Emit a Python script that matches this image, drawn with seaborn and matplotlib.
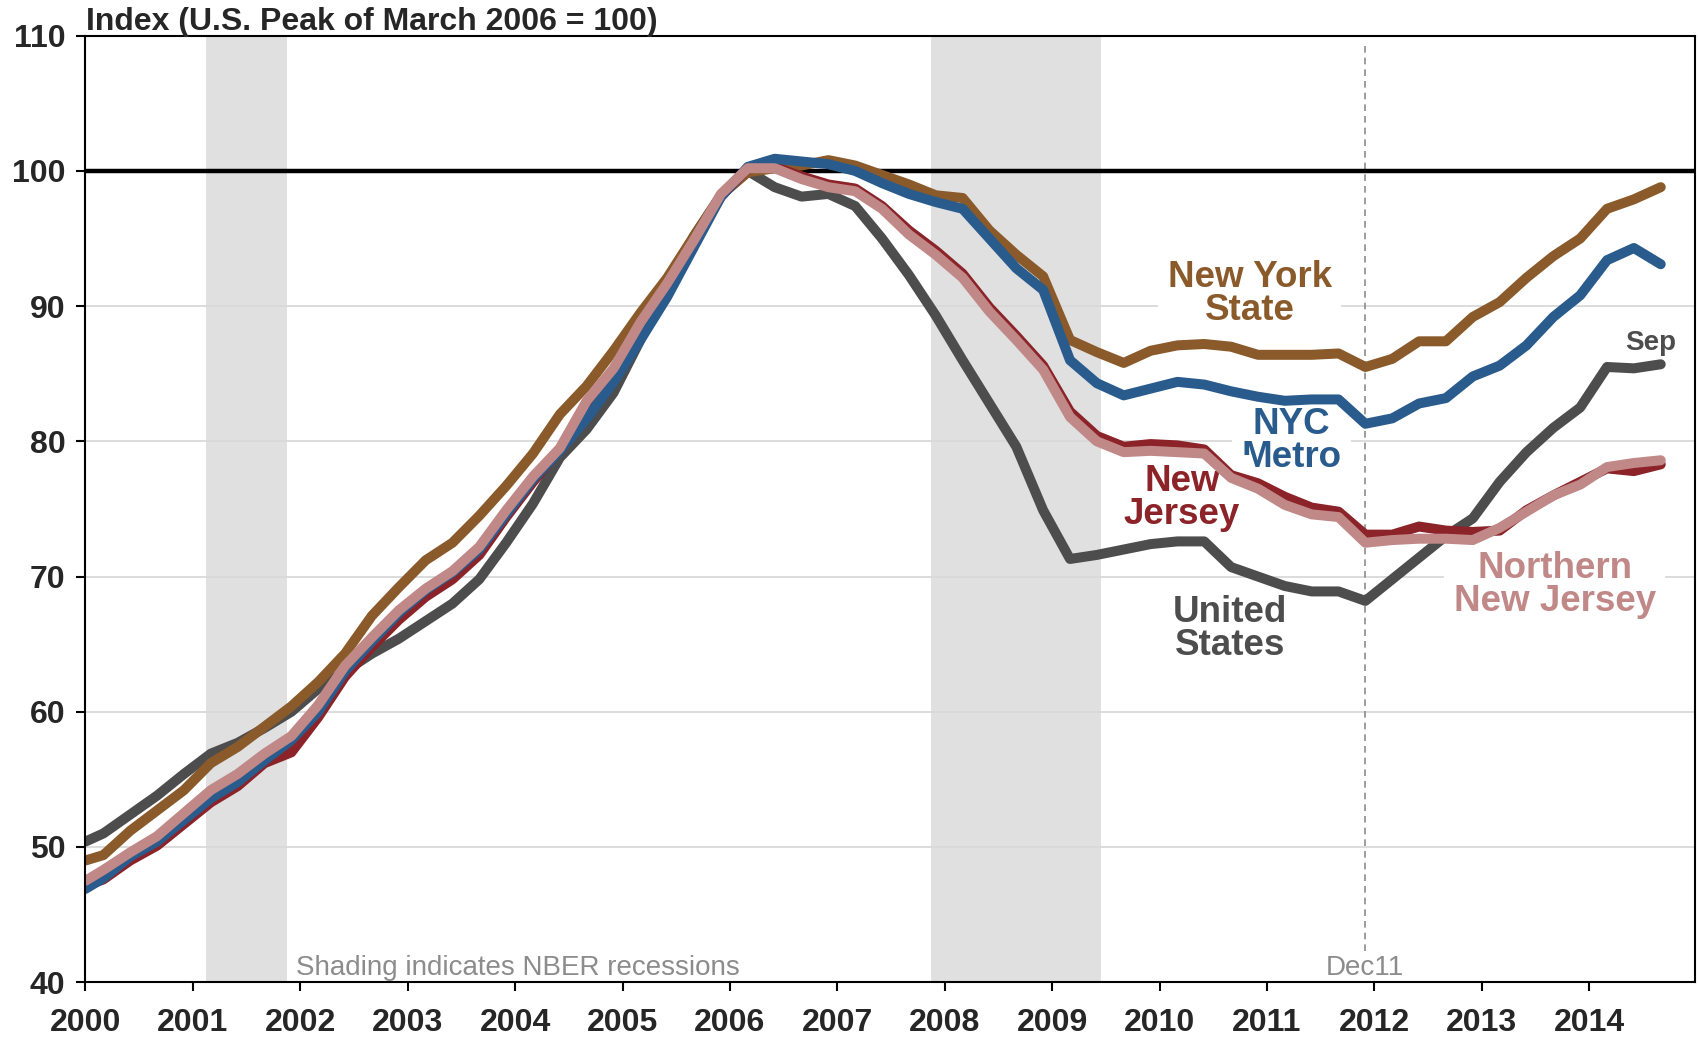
import matplotlib
matplotlib.use("Agg")
import matplotlib.pyplot as plt
import pandas as pd
import seaborn as sns
from matplotlib import font_manager

# Observation months: January 2000, then quarterly (Mar/Jun/Sep/Dec) through September 2014
dates = ["2000-01"] + [d.strftime("%Y-%m") for d in
                       pd.date_range("2000-03-01", "2014-09-01", freq="3MS")]

# Home price indexes (U.S. peak of March 2006 = 100)
us = [
    50.4, 51.0, 52.4, 53.8, 55.4,
    56.9, 57.7, 58.8, 60.0,
    61.7, 63.0, 64.3, 65.4,
    66.7, 68.0, 69.8, 72.5,
    75.4, 78.8, 80.9, 83.6,
    87.5, 91.5, 95.2, 98.2,
    100.0, 98.8, 98.1, 98.3,
    97.4, 95.0, 92.3, 89.3,
    86.0, 82.8, 79.6, 74.9,
    71.3, 71.6, 72.0, 72.4,
    72.6, 72.6, 70.7, 70.0,
    69.3, 68.9, 68.9, 68.2,
    69.8, 71.4, 73.0, 74.3,
    77.0, 79.2, 81.0, 82.5,
    85.5, 85.4, 85.7,
]
nys = [
    49.0, 49.4, 51.2, 52.7, 54.2,
    56.2, 57.4, 58.9, 60.4,
    62.2, 64.3, 67.1, 69.2,
    71.2, 72.5, 74.5, 76.7,
    79.1, 82.0, 84.1, 86.7,
    89.5, 92.1, 95.2, 98.2,
    99.9, 100.2, 100.4, 100.8,
    100.4, 99.7, 99.0, 98.2,
    98.0, 95.6, 93.8, 92.2,
    87.5, 86.6, 85.8, 86.7,
    87.1, 87.2, 87.0, 86.4,
    86.4, 86.4, 86.5, 85.5,
    86.1, 87.4, 87.4, 89.2,
    90.3, 92.1, 93.7, 95.0,
    97.2, 97.9, 98.8,
]
nyc = [
    46.9, 47.7, 49.3, 50.4, 52.0,
    53.6, 54.8, 56.4, 57.9,
    60.0, 63.0, 65.2, 67.3,
    69.0, 70.3, 72.0, 74.6,
    77.2, 79.3, 81.7, 84.4,
    87.5, 90.7, 94.4, 98.1,
    100.3, 100.9, 100.7, 100.5,
    100.0, 99.1, 98.3, 97.7,
    97.2, 95.0, 92.8, 91.2,
    86.0, 84.3, 83.4, 83.9,
    84.4, 84.2, 83.7, 83.3,
    83.0, 83.1, 83.1, 81.3,
    81.7, 82.8, 83.2, 84.8,
    85.6, 87.1, 89.2, 90.8,
    93.4, 94.3, 93.1,
]
nj = [
    47.1, 47.6, 49.0, 50.1, 51.7,
    53.3, 54.5, 56.2, 57.0,
    59.6, 62.6, 64.8, 66.8,
    68.5, 69.8, 71.6, 74.4,
    77.0, 79.4, 82.8, 85.2,
    88.6, 91.5, 94.8, 98.1,
    100.2, 100.3, 99.6, 99.0,
    98.7, 97.4, 95.6, 94.1,
    92.4, 89.9, 87.8, 85.6,
    82.2, 80.4, 79.6, 79.8,
    79.7, 79.4, 77.5, 76.9,
    75.9, 75.1, 74.8, 73.1,
    73.1, 73.7, 73.4, 73.3,
    73.4, 74.9, 76.0, 77.0,
    78.0, 77.8, 78.3,
]
nnj = [
    47.5, 48.3, 49.6, 50.8, 52.5,
    54.2, 55.4, 56.9, 58.2,
    60.5, 63.4, 65.5, 67.5,
    69.1, 70.4, 72.2, 74.9,
    77.4, 79.5, 83.0, 85.4,
    88.8, 91.7, 94.9, 98.3,
    100.2, 100.2, 99.4, 98.8,
    98.5, 97.2, 95.3, 93.8,
    92.1, 89.6, 87.5, 85.3,
    81.8, 80.0, 79.2, 79.3,
    79.2, 79.1, 77.3, 76.5,
    75.3, 74.6, 74.4, 72.5,
    72.7, 72.8, 72.8, 72.7,
    73.6, 74.8, 76.0, 76.8,
    78.1, 78.4, 78.6,
]

series_names = ["United States", "New York State", "New Jersey",
                "NYC Metro", "Northern New Jersey"]
series_values = [us, nys, nj, nyc, nnj]
series_colors = ["#4d4d4d", "#8b5a2b", "#8b2329", "#2a5b8d", "#c18888"]

recessions = [("2001-03", "2001-11"), ("2007-12", "2009-06")]
marker_month = "2011-12"
year_ticks = list(range(2000, 2015))
index_ticks = list(range(40, 111, 10))


def decimal_year(ym):
    y, m = ym.split("-")
    return int(y) + (int(m) - 1) / 12


x_years = [decimal_year(d) for d in dates]

frames = [pd.DataFrame({"date": x_years, "index": vals, "region": name})
          for name, vals in zip(series_names, series_values)]
df = pd.concat(frames, ignore_index=True)

sns.set_theme(style="white")
available = {f.name for f in font_manager.fontManager.ttflist}
base_font = "Liberation Sans" if "Liberation Sans" in available else "DejaVu Sans"
plt.rcParams["font.family"] = [base_font, "DejaVu Sans"]

fig = plt.figure(figsize=(16.98, 10.39), dpi=100)
ax = fig.add_axes([0.05035, 0.0547, 0.99806 - 0.05035, 0.9656 - 0.0547])

# Recession shading (each month spans +/- half a month)
half = 1 / 24
for start, end in recessions:
    ax.axvspan(decimal_year(start) - half, decimal_year(end) + half,
               color="#e0e0e0", lw=0, zorder=0.2)

ax.set_axisbelow(True)
ax.yaxis.grid(True, color="#d9d9d9", linewidth=1.3)
ax.xaxis.grid(False)

# Reference line at 100
ax.axhline(100, color="black", linewidth=3.2, zorder=1.8)

# Dashed marker for December 2011
mx = decimal_year(marker_month)
ax.plot([mx, mx], [42.3, 109.3], color="#8c8c8c", linewidth=1.2,
        linestyle=(0, (4, 3)), zorder=1.6)

sns.lineplot(data=df, x="date", y="index", hue="region",
             hue_order=series_names,
             palette=dict(zip(series_names, series_colors)),
             linewidth=7.2, legend=False, estimator=None, ax=ax,
             solid_joinstyle="round", solid_capstyle="round")

ax.set_xlim(2000, 2014.983)
ax.set_ylim(40, 110)
ax.set_xticks(year_ticks)
ax.set_xticklabels([str(y) for y in year_ticks], fontweight="bold", fontsize=23)
ax.set_yticks(index_ticks)
ax.set_yticklabels([str(v) for v in index_ticks], fontweight="bold", fontsize=23)
ax.set_xlabel("")
ax.set_ylabel("")
ax.tick_params(axis="x", direction="out", length=6.5, width=1.5,
               color="black", pad=12, bottom=True)
ax.tick_params(axis="y", direction="out", length=6.5, width=1.5,
               color="black", pad=8, left=True)
for side in ["left", "right", "top", "bottom"]:
    ax.spines[side].set_visible(True)
    ax.spines[side].set_color("black")
    ax.spines[side].set_linewidth(1.5)

# Series labels
box = dict(facecolor="white", edgecolor="none", pad=7)
labels = [
    ("New York\nState", 2010.84, 90.9, series_colors[1]),
    ("NYC\nMetro", 2011.23, 80.05, series_colors[3]),
    ("New\nJersey", 2010.21, 75.8, series_colors[2]),
    ("United\nStates", 2010.66, 66.1, series_colors[0]),
    ("Northern\nNew Jersey", 2013.68, 69.4, series_colors[4]),
]
for text, lx, ly, col in labels:
    ax.text(lx, ly, text, color=col, fontsize=26.5, fontweight="bold",
            ha="center", va="center", linespacing=0.93, bbox=box, zorder=1.5)

ax.text(2014.57, 87.3, "Sep", color=series_colors[0], fontsize=20,
        fontweight="bold", ha="center", va="center", zorder=3)

ax.text(2001.96, 40.55, "Shading indicates NBER recessions", color="#8c8c8c",
        fontsize=20, ha="left", va="baseline", zorder=3)
ax.text(mx, 40.55, "Dec11", color="#8c8c8c", fontsize=20,
        ha="center", va="baseline", zorder=3)

fig.text(0.0505, 0.9711, "Index (U.S. Peak of March 2006 = 100)",
         fontsize=23, fontweight="bold", ha="left", va="baseline")

fig.savefig("out.png", dpi=100, facecolor="white")
